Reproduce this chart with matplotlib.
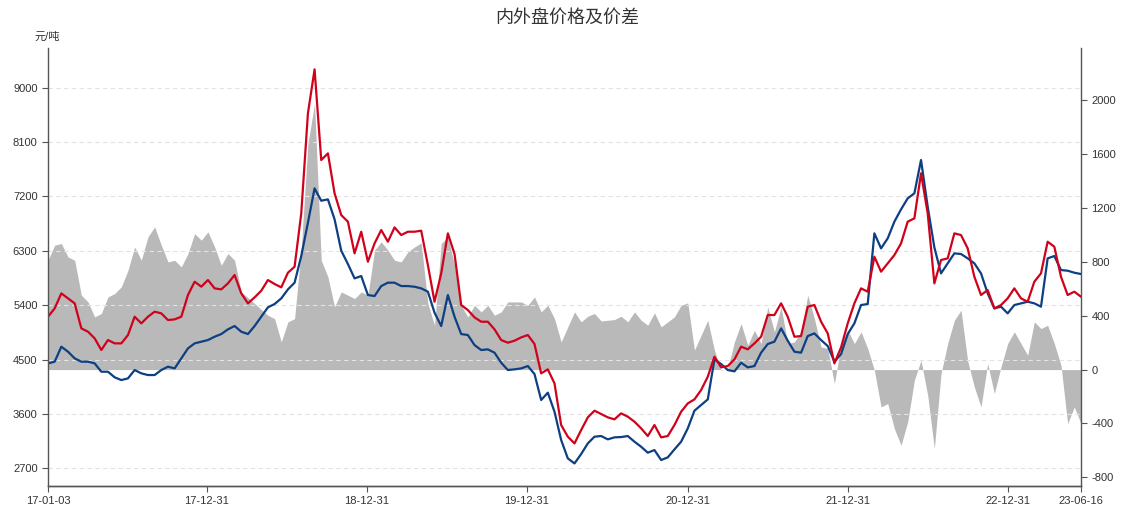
import matplotlib
matplotlib.use('Agg')
import matplotlib.pyplot as plt
import matplotlib.dates as mdates
import pandas as pd

plt.rcParams['font.family'] = ['Liberation Sans', 'Noto Sans CJK SC']
plt.rcParams['axes.unicode_minus'] = False

# sample dates, evenly spaced from first to last trading day
dates = pd.date_range('2017-01-03', '2023-06-16', periods=156)

# domestic price (red), yuan/ton
domestic = [
    5211, 5349, 5597, 5515, 5432, 5018, 4963, 4853, 4660, 4825, 4770, 4770, 4908,
    5211, 5101, 5211, 5294, 5266, 5156, 5167, 5211, 5570, 5790, 5708, 5818, 5680,
    5663, 5763, 5901, 5597, 5432, 5531, 5641, 5818, 5752, 5697, 5939, 6038, 6921,
    8575, 9303, 7803, 7913, 7252, 6893, 6783, 6259, 6617, 6121, 6424, 6645,
    6452, 6689, 6562, 6617, 6617, 6634, 6066, 5459, 5928, 6590, 6248, 5404, 5321,
    5200, 5128, 5128, 5002, 4825, 4781, 4814, 4869, 4908, 4759, 4274, 4340, 4108,
    3419, 3226, 3115, 3336, 3546, 3656, 3601, 3546, 3513, 3612, 3557, 3474, 3364,
    3237, 3419, 3215, 3237, 3419, 3639, 3777, 3843, 3998, 4218, 4549, 4373,
    4395, 4505, 4715, 4671, 4770, 4880, 5239, 5239, 5432, 5211, 4880, 4891, 5377,
    5404, 5129, 4935, 4439, 4704, 5101, 5432, 5680, 5625, 6204, 5956, 6094, 6231,
    6424, 6783, 6838, 7583, 6921, 5763, 6149, 6176, 6590, 6562, 6342, 5873, 5570,
    5652, 5349, 5404, 5515, 5680, 5515, 5459, 5790, 5928, 6452, 6369, 5873, 5570,
    5625, 5542,
]

# foreign price converted (blue), yuan/ton
foreign = [
    4439, 4467, 4715, 4632, 4522, 4467, 4467, 4439, 4301, 4301, 4208, 4163, 4191,
    4329, 4274, 4246, 4246, 4329, 4384, 4356, 4522, 4687, 4770, 4798, 4825, 4880,
    4924, 5002, 5057, 4963, 4924, 5057, 5211, 5366, 5421, 5514, 5663, 5774, 6215,
    6766, 7334, 7130, 7152, 6822, 6303, 6083, 5845, 5884, 5570, 5553, 5718,
    5774, 5774, 5718, 5718, 5707, 5680, 5625, 5277, 5057, 5570, 5211, 4924, 4908,
    4742, 4660, 4671, 4616, 4450, 4329, 4340, 4356, 4395, 4262, 3833, 3954, 3639,
    3171, 2867, 2784, 2939, 3115, 3226, 3237, 3182, 3215, 3220, 3237, 3143, 3060,
    2961, 3005, 2840, 2884, 3016, 3143, 3364, 3656, 3750, 3843, 4505, 4428,
    4329, 4307, 4450, 4373, 4395, 4616, 4759, 4798, 5018, 4814, 4632, 4616, 4891,
    4935, 4825, 4726, 4467, 4593, 4924, 5101, 5404, 5421, 6590, 6342, 6507, 6783,
    6987, 7169, 7252, 7803, 7031, 6358, 5928, 6094, 6259, 6248, 6176, 6094, 5928,
    5597, 5349, 5377, 5266, 5404, 5432, 5459, 5432, 5377, 6176, 6215, 5983, 5972,
    5939, 5917,
]

# price spread (gray area, right axis)
spread = [
    811, 923, 935, 836, 811, 552, 502, 391, 416, 539, 564, 614, 737,
    910, 811, 985, 1059, 923, 799, 811, 762, 861, 1009, 960, 1022, 910,
    774, 861, 811, 576, 534, 490, 445, 403, 378, 205, 354, 378, 898,
    1677, 1974, 811, 688, 465, 576, 552, 527, 576, 552, 886, 948,
    886, 811, 799, 873, 910, 940, 490, 329, 935, 985, 774, 477, 391,
    477, 428, 477, 403, 428, 502, 502, 502, 477, 539, 428, 477, 378,
    205, 317, 428, 354, 396, 416, 361, 366, 371, 396, 354, 428, 366,
    329, 421, 317, 354, 391, 477, 495, 144, 255, 366, 144, -5,
    7, 205, 341, 181, 292, 193, 465, 280, 465, 193, 205, 280, 552,
    378, 168, 156, -104, 181, 292, 193, 280, 156, -5, -277, -252, -438,
    -562, -388, -79, 69, -190, -586, -30, 193, 366, 440, 64, -129, -277,
    45, -178, 20, 193, 280, 193, 106, 354, 304, 329, 193, 32, -401, -277,
    -401,
]

xtick_dates = pd.to_datetime(['2017-01-03', '2017-12-31', '2018-12-31', '2019-12-31',
                              '2020-12-31', '2021-12-31', '2022-12-31', '2023-06-16'])
left_ticks = [2700, 3600, 4500, 5400, 6300, 7200, 8100, 9000]
right_ticks = [-800, -400, 0, 400, 800, 1200, 1600, 2000]

fig = plt.figure(figsize=(11.35, 5.13), dpi=100)
ax = fig.add_axes([0.0423, 0.0526, 0.9101, 0.8533])
ax2 = ax.twinx()

ax2.fill_between(dates, 0, spread, color='#b9b9b9', linewidth=0)
ax.plot(dates, foreign, color='#0d3f82', linewidth=1.6)
ax.plot(dates, domestic, color='#d0021b', linewidth=1.6)

ax.set_zorder(ax2.get_zorder() + 1)
ax.patch.set_visible(False)

ax.set_xlim(dates[0], dates[-1])
ax.set_ylim(2410, 9652)
ax2.set_ylim(-864, 2384)
ax.set_yticks(left_ticks)
ax2.set_yticks(right_ticks)
ax.set_xticks(xtick_dates)
ax.xaxis.set_major_formatter(mdates.DateFormatter('%y-%m-%d'))

ax.grid(axis='y', linestyle=(0, (4, 3)), color='#e3e3e3', linewidth=0.8)
ax.grid(axis='x', visible=False)

for a in (ax, ax2):
    a.spines['top'].set_visible(False)
    for s in ('left', 'right', 'bottom'):
        a.spines[s].set_color('#555555')
        a.spines[s].set_linewidth(1.0)
    a.tick_params(colors='#555555', labelcolor='#333333', labelsize=8, length=4, width=0.8)
ax.spines['right'].set_visible(False)
ax2.spines['left'].set_visible(False)

fig.text(0.5, 0.965, '内外盘价格及价差', ha='center', va='center', fontsize=13, color='#333333')
fig.text(0.042, 0.928, '元/吨', ha='center', va='center', fontsize=8, color='#333333')

fig.savefig('out.png', dpi=100)
